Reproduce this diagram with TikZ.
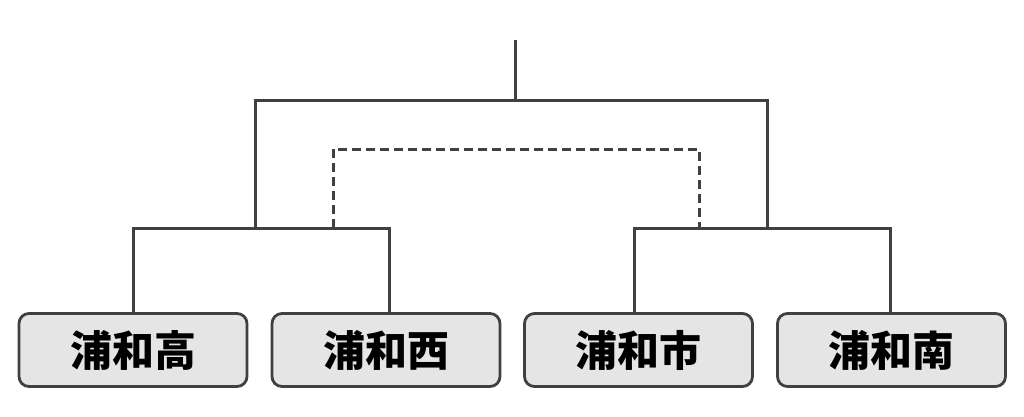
\documentclass[tikz,border=0pt]{standalone}
\usepackage{fontspec}
\newfontfamily\cjk{Noto Sans CJK JP}
\definecolor{linec}{HTML}{404040}
\definecolor{boxfill}{HTML}{E6E5E6}
\begin{document}
\begin{tikzpicture}[x=1pt,y=-1pt,
  team/.style={draw=linec, line width=2.8pt, fill=boxfill, rounded corners=10pt,
    minimum width=228pt, minimum height=73pt, inner sep=0pt,
    font=\cjk\bfseries\fontsize{42}{46}\selectfont},
  link/.style={draw=linec, line width=3pt},
  dlink/.style={draw=linec, line width=3pt, dash pattern=on 9pt off 5pt}]
\useasboundingbox (0,0) rectangle (1024,416);
\coordinate (top) at (515,40);
\coordinate (ab) at (255,228);
\coordinate (cd) at (767,228);
\coordinate (abd) at (333,228);
\coordinate (cdd) at (699,228);
\coordinate (ta) at (133,228);
\coordinate (tb) at (389,228);
\coordinate (tc) at (634,228);
\coordinate (td) at (890,228);
\draw[link] (ta |- 0,314) -- (ta) -- (tb) -- (tb |- 0,314);
\draw[link] (tc |- 0,314) -- (tc) -- (td) -- (td |- 0,314);
\draw[link] (ab) -- (255,100) -- (767,100) -- (cd);
\draw[link] (top) -- (515,100);
\draw[dlink] (abd) -- (333,149) -- (699,149) -- (cdd);
\node[team] (a) at (133,350) {浦和高};
\node[team] (b) at (386,350) {浦和西};
\node[team] (c) at (638.5,350) {浦和市};
\node[team] (d) at (891.5,350) {浦和南};
\end{tikzpicture}
\end{document}
